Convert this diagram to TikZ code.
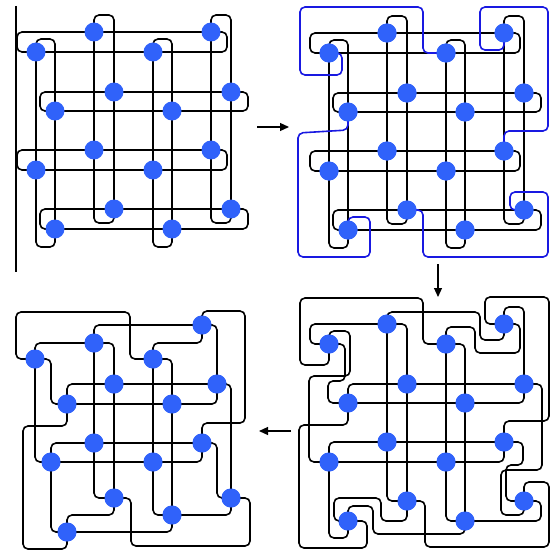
\documentclass[tikz,border=0pt]{standalone}
\usetikzlibrary{arrows.meta}
\definecolor{dotblue}{RGB}{48,98,250}
\definecolor{lineblue}{RGB}{25,25,225}
\tikzset{
  knot/.style={line width=1.6pt, black, rounded corners=5pt},
  bluek/.style={line width=1.6pt, lineblue, rounded corners=5pt},
  bead/.style={circle, fill=dotblue, minimum size=19pt, inner sep=0pt, draw=none},
  flow/.style={line width=1.2pt, -{Triangle[length=9pt,width=8pt]}},
  edge line/.style={line width=1.2pt, black},
}
\newcommand\stdbeads[1]{%
  \node[bead] (#1a0) at (94,32) {};  \node[bead] (#1a1) at (211,32) {};
  \node[bead] (#1b0) at (36,52) {};  \node[bead] (#1b1) at (153,52) {};
  \node[bead] (#1c0) at (114,92) {}; \node[bead] (#1c1) at (231,92) {};
  \node[bead] (#1d0) at (55,111) {}; \node[bead] (#1d1) at (172,111) {};
  \node[bead] (#1e0) at (94,150) {}; \node[bead] (#1e1) at (211,150) {};
  \node[bead] (#1f0) at (36,170) {}; \node[bead] (#1f1) at (153,170) {};
  \node[bead] (#1g0) at (114,209) {}; \node[bead] (#1g1) at (231,209) {};
  \node[bead] (#1h0) at (55,229) {}; \node[bead] (#1h1) at (172,229) {};
}
\newcommand\stdloops{%
  \draw[knot] (17,32) rectangle (227,52);
  \draw[knot] (40,92) rectangle (248,111);
  \draw[knot] (17,150) rectangle (227,170);
  \draw[knot] (40,209) rectangle (248,229);
  \draw[knot] (36,39) rectangle (55,247);
  \draw[knot] (94,15) rectangle (114,223);
  \draw[knot] (153,39) rectangle (172,247);
  \draw[knot] (211,15) rectangle (231,223);
}
\begin{document}
\begin{tikzpicture}[x=1pt,y=-1pt]
\useasboundingbox (0,0) rectangle (551,551);
% ---------------- panel 1 ----------------
\coordinate (edgetop) at (16,6);
\coordinate (edgebot) at (16,272);
\draw[edge line] (edgetop) -- (edgebot);
\begin{scope}
  \stdloops
  \stdbeads{p}
\end{scope}
% ---------------- panel 2 ----------------
\begin{scope}[shift={(293,1)}]
  \stdloops
  \stdbeads{q}
  \draw[bluek] (qb0.center) -- (49,52) -- (49,74) -- (7,74) -- (7,6) -- (130,6) -- (130,52) -- (qb1.center);
  \draw[bluek] (qa1.center) -- (211,49) -- (187,49) -- (187,6) -- (255,6) -- (255,130) -- (211,130) -- (qe1.center);
  \draw[bluek] (qd0.center) -- (55,129) -- (5,132) -- (5,256) -- (77,256) -- (77,216) -- (55,216) -- (qh0.center);
  \draw[bluek] (qg0.center) -- (130,209) -- (130,256) -- (255,256) -- (255,191) -- (217,191) -- (217,209) -- (qg1.center);
  \stdbeads{q}
\end{scope}
% ---------------- panel 3 ----------------
\begin{scope}[shift={(293,292)}]
  \stdbeads{r}
  \draw[knot] (rb0.center) -- (36,73) -- (7,73) -- (7,6) -- (130,6) -- (130,52) -- (rb1.center);
  \draw[knot] (ra1.center) -- (192,32) -- (192,5) -- (256,5) -- (256,129) -- (211,129) -- (re1.center);
  \draw[knot] (rh0.center) -- (74,229) -- (74,256) -- (6,256) -- (6,133) -- (55,133) -- (rd0.center);
  \draw[knot] (rg1.center) -- (231,190) -- (256,190) -- (256,255) -- (132,255) -- (132,209) -- (rg0.center);
  \draw[knot] (ra0.center) -- (17,32) -- (17,52) -- (rb0.center);
  \draw[knot] (rh1.center) -- (248,229) -- (248,209) -- (rg1.center);
  \draw[knot] (rb0.center) -- (36,39) -- (57,39) -- (57,84) -- (16,84) -- (16,170) -- (rf0.center);
  \draw[knot] (rb0.center) -- (52,52) -- (52,89) -- (35,89) -- (35,111) -- (rd0.center);
  \draw[knot] (rg1.center) -- (231,223) -- (208,223) -- (208,178) -- (249,178) -- (249,92) -- (rc1.center);
  \draw[knot] (rg1.center) -- (213,209) -- (213,173) -- (230,173) -- (230,150) -- (re1.center);
  \draw[knot] (ra1.center) -- (211,15) -- (231,15) -- (rc1.center);
  \draw[knot] (rf0.center) -- (36,246) -- (55,246) -- (rh0.center);
  \draw[knot] (ra0.center) -- (94,20) -- (187,20) -- (187,48) -- (211,48) -- (ra1.center);
  \draw[knot] (rh1.center) -- (172,242) -- (80,242) -- (80,214) -- (55,214) -- (rh0.center);
  \draw[knot] (rb1.center) -- (153,35) -- (182,35) -- (182,61) -- (227,61) -- (227,32) -- (ra1.center);
  \draw[knot] (rg0.center) -- (114,229) -- (88,229) -- (88,206) -- (41,206) -- (41,229) -- (rh0.center);
  \draw[knot] (ra0.center) -- (re0.center) -- (94,209) -- (rg0.center);
  \draw[knot] (ra0.center) -- (114,32) -- (rc0.center) -- (rg0.center);
  \draw[knot] (rb1.center) -- (rf1.center) -- (153,229) -- (rh1.center);
  \draw[knot] (rb1.center) -- (172,52) -- (rd1.center) -- (rh1.center);
  \draw[knot] (rd0.center) -- (55,92) -- (rc0.center) -- (rc1.center);
  \draw[knot] (rd0.center) -- (rd1.center) -- (231,111) -- (rc1.center);
  \draw[knot] (rf0.center) -- (36,150) -- (re0.center) -- (re1.center);
  \draw[knot] (rf0.center) -- (rf1.center) -- (211,170) -- (re1.center);
  \stdbeads{r}
\end{scope}
% ---------------- panel 4 ----------------
\begin{scope}[shift={(0,292)}]
  \node[bead] (sa0) at (94,51) {};  \node[bead] (sa1) at (202,33) {};
  \node[bead] (sb0) at (35,67) {};  \node[bead] (sb1) at (153,67) {};
  \node[bead] (sc0) at (114,92) {}; \node[bead] (sc1) at (217,92) {};
  \node[bead] (sd0) at (67,112) {}; \node[bead] (sd1) at (172,112) {};
  \node[bead] (se0) at (94,151) {}; \node[bead] (se1) at (202,151) {};
  \node[bead] (sf0) at (51,170) {}; \node[bead] (sf1) at (153,170) {};
  \node[bead] (sg0) at (114,206) {}; \node[bead] (sg1) at (231,206) {};
  \node[bead] (sh0) at (67,240) {}; \node[bead] (sh1) at (172,223) {};
  \draw[knot] (sb0.center) -- (16,67) -- (16,20) -- (130,20) -- (130,67) -- (sb1.center);
  \draw[knot] (sa1.center) -- (202,19) -- (245,19) -- (245,131) -- (202,131) -- (se1.center);
  \draw[knot] (sd0.center) -- (67,134) -- (23,134) -- (23,257) -- (67,257) -- (sh0.center);
  \draw[knot] (sg1.center) -- (250,206) -- (250,254) -- (131,254) -- (131,206) -- (sg0.center);
  \draw[knot] (sb0.center) -- (35,51) -- (sa0.center);
  \draw[knot] (sa0.center) -- (94,33) -- (sa1.center);
  \draw[knot] (sa0.center) -- (114,51) -- (sc0.center) -- (sg0.center);
  \draw[knot] (sa0.center) -- (se0.center) -- (94,206) -- (sg0.center);
  \draw[knot] (sb0.center) -- (51,67) -- (51,112) -- (sd0.center);
  \draw[knot] (sb0.center) -- (35,170) -- (sf0.center);
  \draw[knot] (sd0.center) -- (67,92) -- (sc0.center) -- (sc1.center);
  \draw[knot] (sd0.center) -- (sd1.center) -- (217,112) -- (sc1.center);
  \draw[knot] (sa1.center) -- (217,33) -- (sc1.center);
  \draw[knot] (sa1.center) -- (202,51) -- (153,51) -- (sb1.center);
  \draw[knot] (sc1.center) -- (231,92) -- (sg1.center);
  \draw[knot] (sb1.center) -- (172,67) -- (sd1.center) -- (sh1.center);
  \draw[knot] (sb1.center) -- (sf1.center) -- (153,223) -- (sh1.center);
  \draw[knot] (sf0.center) -- (51,151) -- (se0.center) -- (se1.center);
  \draw[knot] (sf0.center) -- (sf1.center) -- (202,170) -- (se1.center);
  \draw[knot] (se1.center) -- (217,151) -- (217,206) -- (sg1.center);
  \draw[knot] (sg1.center) -- (231,223) -- (sh1.center);
  \draw[knot] (sh1.center) -- (172,240) -- (sh0.center);
  \draw[knot] (sh0.center) -- (67,223) -- (114,223) -- (sg0.center);
  \draw[knot] (sh0.center) -- (51,240) -- (sf0.center);
  \node[bead] at (sa0) {}; \node[bead] at (sa1) {};
  \node[bead] at (sb0) {}; \node[bead] at (sb1) {};
  \node[bead] at (sc0) {}; \node[bead] at (sc1) {};
  \node[bead] at (sd0) {}; \node[bead] at (sd1) {};
  \node[bead] at (se0) {}; \node[bead] at (se1) {};
  \node[bead] at (sf0) {}; \node[bead] at (sf1) {};
  \node[bead] at (sg0) {}; \node[bead] at (sg1) {};
  \node[bead] at (sh0) {}; \node[bead] at (sh1) {};
\end{scope}
% ---------------- arrows ----------------
\coordinate (arA1) at (257,127); \coordinate (arA2) at (289,127);
\coordinate (arB1) at (438,264); \coordinate (arB2) at (438,297);
\coordinate (arC1) at (291,431); \coordinate (arC2) at (259,431);
\draw[flow] (arA1) -- (arA2);
\draw[flow] (arB1) -- (arB2);
\draw[flow] (arC1) -- (arC2);
\end{tikzpicture}
\end{document}
